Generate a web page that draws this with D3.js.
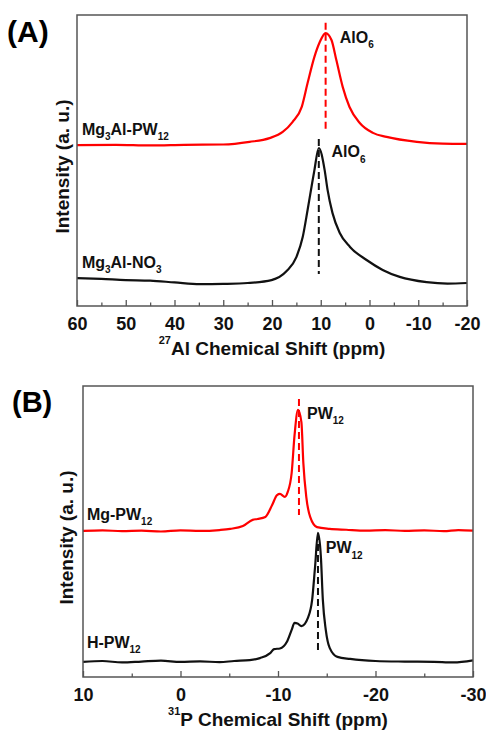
<!DOCTYPE html>
<html><head><meta charset="utf-8">
<script src="https://cdn.jsdelivr.net/npm/d3@7"></script>
<style>
body{margin:0;background:#fff}
svg{display:block}
text{font-family:"Liberation Sans",Arial,sans-serif;font-weight:bold}
</style>
</head><body>
<svg id="chart" width="486" height="731"></svg>
<script>
// ---------- DATA ----------
// Panel A: 27Al NMR
const alTicks = [60, 50, 40, 30, 20, 10, 0, -10, -20];
const alMinorTicks = [55, 45, 35, 25, 15, 5, -5, -15];
const alPw12Shift = [60, 52, 45, 38, 30, 24.6, 20.5, 17.8, 15.8, 13.9, 12.7, 11.3, 10.2, 9.0, 7.8, 6.8, 5.5, 4.1, 2.0, -0.7, -3.5, -9.7, -15, -20];
const alPw12Intensity = [55.3, 55.4, 55.2, 55.4, 55.5, 56.4, 57.7, 59.8, 63.2, 68.4, 76.6, 85.6, 90.7, 93.8, 91.4, 84.5, 75.3, 68.4, 62.9, 59.5, 58.1, 56.4, 55.8, 55.7];
const alNo3Shift = [60, 55, 50, 45, 40, 34.8, 30, 25, 20.1, 17.0, 15.0, 13.7, 12.7, 11.9, 11.3, 10.4, 9.2, 8.6, 7.6, 6.1, 4.0, 0.6, -2.7, -6.2, -11.7, -16, -20];
const alNo3Intensity = [9.6, 9.3, 8.9, 8.7, 8.1, 7.5, 7.6, 7.9, 8.9, 12.0, 16.8, 23.7, 33.0, 40.9, 46.7, 54.3, 46.7, 39.9, 32.0, 25.1, 20.3, 15.8, 12.4, 10.0, 8.2, 7.7, 7.9];
// peak markers: [shift, intensity top, intensity bottom]
const alPw12Marker = [9.0, 97.3, 59.5];
const alNo3Marker = [10.4, 57.4, 11.0];

// Panel B: 31P NMR
const pTicks = [10, 0, -10, -20, -30];
const pMinorTicks = [5, -5, -15, -25];
const pMgShift = [10, 8, 6, 4, 2, 0, -2, -4, -5.1, -6.4, -7.4, -7.9, -8.7, -9.4, -9.9, -10.2, -10.7, -11.0, -11.4, -11.7, -12.05, -12.4, -12.6, -12.9, -13.3, -14.0, -15.3, -17, -19, -21, -23, -25, -27, -28.5, -30];
const pMgIntensity = [50.2, 50.4, 50.1, 50.3, 50.0, 50.4, 50.2, 50.5, 50.9, 51.9, 54.0, 54.3, 55.0, 59.1, 62.5, 62.9, 61.9, 63.6, 70.1, 83.2, 91.8, 87.6, 73.5, 61.9, 55.0, 51.5, 50.9, 50.6, 50.3, 50.5, 50.2, 50.4, 50.1, 50.5, 50.3];
const pHShift = [10, 8, 6, 4, 2, 0, -2, -4, -5.5, -7.1, -8.15, -9.2, -9.6, -10.2, -10.9, -11.4, -11.7, -12.0, -12.4, -13.1, -13.5, -13.8, -14.1, -14.4, -14.6, -14.9, -15.3, -16.1, -17.4, -20, -23, -26, -28, -30];
const pHIntensity = [5.2, 5.5, 5.0, 5.3, 5.6, 5.2, 5.4, 5.1, 5.5, 5.8, 6.5, 8.2, 9.6, 9.8, 12.0, 16.2, 18.6, 18.4, 17.5, 20.6, 26.5, 37.8, 49.5, 41.2, 26.5, 16.2, 10.0, 6.9, 6.2, 5.5, 5.3, 5.2, 5.0, 5.7];
const pMgMarker = [-12.15, 95.5, 55.7];
const pHMarker = [-14.1, 49.5, 9.3];

// annotations: text parts, shift, intensity
const alLabels = [
  {parts: [["Mg"], ["3", "sub"], ["Al-PW"], ["12", "sub"]], shift: 59.0, val: 58.8},
  {parts: [["AlO"], ["6", "sub"]], shift: 6.1, val: 90.4},
  {parts: [["AlO"], ["6", "sub"]], shift: 7.8, val: 51.2},
  {parts: [["Mg"], ["3", "sub"], ["Al-NO"], ["3", "sub"]], shift: 59.0, val: 13.1}
];
const pLabels = [
  {parts: [["Mg-PW"], ["12", "sub"]], shift: 9.6, val: 54.0},
  {parts: [["PW"], ["12", "sub"]], shift: -12.97, val: 88.7},
  {parts: [["PW"], ["12", "sub"]], shift: -14.9, val: 42.6},
  {parts: [["H-PW"], ["12", "sub"]], shift: 9.6, val: 10.0}
];

// ---------- DRAWING ----------
const RED = "#ff0000", BLACK = "#111111";
const svg = d3.select("#chart");
svg.append("rect").attr("width", 486).attr("height", 731).attr("fill", "#fff");

function richText(g, x, y, parts, size, subSize, color, anchor) {
  const t = g.append("text").attr("x", x).attr("y", y)
    .attr("fill", color).attr("font-size", size).attr("text-anchor", anchor || "start");
  let cur = 0;
  parts.forEach(p => {
    const type = p[1];
    const target = type === "sub" ? 5.5 : type === "sup" ? -11 : 0;
    t.append("tspan").attr("dy", target - cur)
      .attr("font-size", type ? subSize : size).text(p[0]);
    cur = target;
  });
  return t;
}

function panel(cfg) {
  const g = svg.append("g");
  const x = d3.scaleLinear().domain(cfg.xDomain).range([cfg.left, cfg.right]);
  const y = d3.scaleLinear().domain([0, 100]).range([cfg.bottom, cfg.top]);
  const line = d3.line().x(d => x(d[0])).y(d => y(d[1])).curve(d3.curveMonotoneX);

  cfg.series.forEach(s => {
    g.append("path").datum(d3.zip(s.shift, s.val))
      .attr("d", line).attr("fill", "none")
      .attr("stroke", s.color).attr("stroke-width", 2.2)
      .attr("stroke-linejoin", "round");
  });
  cfg.markers.forEach(m => {
    g.append("line")
      .attr("x1", x(m.d[0])).attr("x2", x(m.d[0]))
      .attr("y1", y(m.d[1])).attr("y2", y(m.d[2]))
      .attr("stroke", m.color).attr("stroke-width", 2)
      .attr("stroke-dasharray", "7,4");
  });
  g.append("rect").attr("x", cfg.left).attr("y", cfg.top)
    .attr("width", cfg.right - cfg.left).attr("height", cfg.bottom - cfg.top)
    .attr("fill", "none").attr("stroke", "#555").attr("stroke-width", 1.5);
  const axis = d3.axisBottom(x).tickValues(cfg.ticks).tickSize(-6).tickPadding(10)
    .tickFormat(d => d === 0 ? "0" : String(d));
  const ax = g.append("g").attr("transform", `translate(0,${cfg.bottom})`).call(axis);
  ax.select(".domain").remove();
  ax.selectAll(".tick line").attr("stroke", "#555").attr("stroke-width", 1.3);
  ax.selectAll(".tick text").attr("font-size", 18).attr("fill", "#111")
    .attr("font-family", '"Liberation Sans",Arial,sans-serif').attr("font-weight", "bold")
    .attr("dy", null).attr("y", 24);
  const minor = d3.axisBottom(x).tickValues(cfg.minor).tickSize(-3.5).tickFormat("");
  const mx = g.append("g").attr("transform", `translate(0,${cfg.bottom})`).call(minor);
  mx.select(".domain").remove();
  mx.selectAll(".tick line").attr("stroke", "#555").attr("stroke-width", 1.3);

  cfg.labels.forEach(l => {
    richText(g, x(l.shift), y(l.val), l.parts, 16, 10, BLACK);
  });
  richText(g, (cfg.left + cfg.right) / 2, cfg.bottom + 49, cfg.xTitle, 19, 11, "#111", "middle");
  g.append("text")
    .attr("transform", `translate(${cfg.yTitleX},${(cfg.top + cfg.bottom) / 2 + 6}) rotate(-90)`)
    .attr("text-anchor", "middle").attr("font-size", 19).attr("fill", "#111")
    .text("Intensity (a. u.)");
  g.append("text").attr("x", cfg.letterX).attr("y", cfg.letterY)
    .attr("font-size", cfg.letterSize).attr("fill", "#000").text(cfg.letter);
}

panel({
  left: 77, right: 467, top: 15, bottom: 306,
  xDomain: [60, -20], ticks: alTicks, minor: alMinorTicks,
  series: [
    {shift: alPw12Shift, val: alPw12Intensity, color: RED},
    {shift: alNo3Shift, val: alNo3Intensity, color: BLACK}
  ],
  markers: [{d: alPw12Marker, color: RED}, {d: alNo3Marker, color: BLACK}],
  labels: alLabels,
  xTitle: [["27", "sup"], ["Al Chemical Shift (ppm)"]],
  yTitleX: 69,
  letter: "(A)", letterX: 7, letterY: 42, letterSize: 30
});

panel({
  left: 83, right: 473, top: 386, bottom: 677,
  xDomain: [10, -30], ticks: pTicks, minor: pMinorTicks,
  series: [
    {shift: pMgShift, val: pMgIntensity, color: RED},
    {shift: pHShift, val: pHIntensity, color: BLACK}
  ],
  markers: [{d: pMgMarker, color: RED}, {d: pHMarker, color: BLACK}],
  labels: pLabels,
  xTitle: [["31", "sup"], ["P Chemical Shift (ppm)"]],
  yTitleX: 73,
  letter: "(B)", letterX: 12, letterY: 412, letterSize: 29
});
</script>
</body></html>
